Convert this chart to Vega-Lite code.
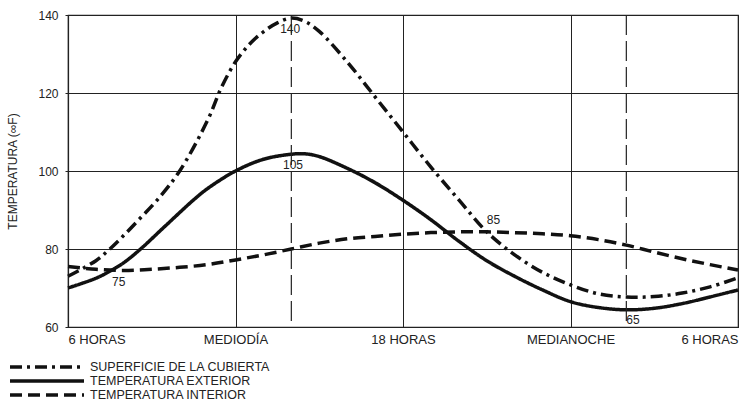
{
  "$schema": "https://vega.github.io/schema/vega-lite/v6.json",
  "width": 670,
  "height": 312,
  "autosize": {"type": "none"},
  "padding": {"left": 68, "top": 15, "right": 1, "bottom": 75},
  "background": "white",
  "config": {
    "font": "Liberation Sans",
    "view": {"stroke": "#222", "strokeWidth": 1.2},
    "axis": {"gridColor": "#222", "gridOpacity": 1, "gridWidth": 1, "domainColor": "#222", "domainWidth": 1.2, "tickColor": "#222", "labelColor": "#222", "titleColor": "#222", "labelFont": "Liberation Sans", "titleFont": "Liberation Sans", "titleFontWeight": "normal"},
    "legend": {"labelFont": "Liberation Sans"}
  },
  "datasets": {
    "curves": [
      {"hour": 6, "temp": 73, "serie": "SUPERFICIE DE LA CUBIERTA"},
      {"hour": 7, "temp": 77, "serie": "SUPERFICIE DE LA CUBIERTA"},
      {"hour": 7.5, "temp": 80, "serie": "SUPERFICIE DE LA CUBIERTA"},
      {"hour": 8, "temp": 83.5, "serie": "SUPERFICIE DE LA CUBIERTA"},
      {"hour": 8.6, "temp": 88, "serie": "SUPERFICIE DE LA CUBIERTA"},
      {"hour": 9.2, "temp": 92.6, "serie": "SUPERFICIE DE LA CUBIERTA"},
      {"hour": 10, "temp": 100, "serie": "SUPERFICIE DE LA CUBIERTA"},
      {"hour": 11, "temp": 113, "serie": "SUPERFICIE DE LA CUBIERTA"},
      {"hour": 11.5, "temp": 121.5, "serie": "SUPERFICIE DE LA CUBIERTA"},
      {"hour": 12, "temp": 128, "serie": "SUPERFICIE DE LA CUBIERTA"},
      {"hour": 12.5, "temp": 132.5, "serie": "SUPERFICIE DE LA CUBIERTA"},
      {"hour": 13, "temp": 135.7, "serie": "SUPERFICIE DE LA CUBIERTA"},
      {"hour": 13.5, "temp": 138, "serie": "SUPERFICIE DE LA CUBIERTA"},
      {"hour": 14, "temp": 139.2, "serie": "SUPERFICIE DE LA CUBIERTA"},
      {"hour": 14.5, "temp": 138.3, "serie": "SUPERFICIE DE LA CUBIERTA"},
      {"hour": 15, "temp": 135.8, "serie": "SUPERFICIE DE LA CUBIERTA"},
      {"hour": 16, "temp": 128, "serie": "SUPERFICIE DE LA CUBIERTA"},
      {"hour": 17, "temp": 119, "serie": "SUPERFICIE DE LA CUBIERTA"},
      {"hour": 18, "temp": 110, "serie": "SUPERFICIE DE LA CUBIERTA"},
      {"hour": 19, "temp": 101, "serie": "SUPERFICIE DE LA CUBIERTA"},
      {"hour": 20, "temp": 92.6, "serie": "SUPERFICIE DE LA CUBIERTA"},
      {"hour": 21, "temp": 84.4, "serie": "SUPERFICIE DE LA CUBIERTA"},
      {"hour": 22, "temp": 78.5, "serie": "SUPERFICIE DE LA CUBIERTA"},
      {"hour": 23, "temp": 74, "serie": "SUPERFICIE DE LA CUBIERTA"},
      {"hour": 24, "temp": 70.8, "serie": "SUPERFICIE DE LA CUBIERTA"},
      {"hour": 25, "temp": 68.5, "serie": "SUPERFICIE DE LA CUBIERTA"},
      {"hour": 26, "temp": 67.7, "serie": "SUPERFICIE DE LA CUBIERTA"},
      {"hour": 27, "temp": 67.8, "serie": "SUPERFICIE DE LA CUBIERTA"},
      {"hour": 28, "temp": 68.7, "serie": "SUPERFICIE DE LA CUBIERTA"},
      {"hour": 29, "temp": 70.3, "serie": "SUPERFICIE DE LA CUBIERTA"},
      {"hour": 30, "temp": 72.6, "serie": "SUPERFICIE DE LA CUBIERTA"},
      {"hour": 6, "temp": 70, "serie": "TEMPERATURA EXTERIOR"},
      {"hour": 7, "temp": 72.5, "serie": "TEMPERATURA EXTERIOR"},
      {"hour": 7.5, "temp": 74.3, "serie": "TEMPERATURA EXTERIOR"},
      {"hour": 8, "temp": 76.5, "serie": "TEMPERATURA EXTERIOR"},
      {"hour": 8.6, "temp": 80, "serie": "TEMPERATURA EXTERIOR"},
      {"hour": 9.5, "temp": 86, "serie": "TEMPERATURA EXTERIOR"},
      {"hour": 10.5, "temp": 92.6, "serie": "TEMPERATURA EXTERIOR"},
      {"hour": 11, "temp": 95.5, "serie": "TEMPERATURA EXTERIOR"},
      {"hour": 12, "temp": 100, "serie": "TEMPERATURA EXTERIOR"},
      {"hour": 13, "temp": 103, "serie": "TEMPERATURA EXTERIOR"},
      {"hour": 14, "temp": 104.3, "serie": "TEMPERATURA EXTERIOR"},
      {"hour": 14.5, "temp": 104.4, "serie": "TEMPERATURA EXTERIOR"},
      {"hour": 15, "temp": 103.7, "serie": "TEMPERATURA EXTERIOR"},
      {"hour": 16, "temp": 100.7, "serie": "TEMPERATURA EXTERIOR"},
      {"hour": 17, "temp": 97, "serie": "TEMPERATURA EXTERIOR"},
      {"hour": 18, "temp": 92.5, "serie": "TEMPERATURA EXTERIOR"},
      {"hour": 19, "temp": 87.5, "serie": "TEMPERATURA EXTERIOR"},
      {"hour": 20, "temp": 82, "serie": "TEMPERATURA EXTERIOR"},
      {"hour": 21, "temp": 77, "serie": "TEMPERATURA EXTERIOR"},
      {"hour": 22, "temp": 73, "serie": "TEMPERATURA EXTERIOR"},
      {"hour": 23, "temp": 69.5, "serie": "TEMPERATURA EXTERIOR"},
      {"hour": 24, "temp": 66.5, "serie": "TEMPERATURA EXTERIOR"},
      {"hour": 25, "temp": 65, "serie": "TEMPERATURA EXTERIOR"},
      {"hour": 26, "temp": 64.4, "serie": "TEMPERATURA EXTERIOR"},
      {"hour": 27, "temp": 64.8, "serie": "TEMPERATURA EXTERIOR"},
      {"hour": 28, "temp": 66, "serie": "TEMPERATURA EXTERIOR"},
      {"hour": 29, "temp": 67.7, "serie": "TEMPERATURA EXTERIOR"},
      {"hour": 30, "temp": 69.5, "serie": "TEMPERATURA EXTERIOR"},
      {"hour": 6, "temp": 75.5, "serie": "TEMPERATURA INTERIOR"},
      {"hour": 7, "temp": 74.8, "serie": "TEMPERATURA INTERIOR"},
      {"hour": 8, "temp": 74.5, "serie": "TEMPERATURA INTERIOR"},
      {"hour": 9, "temp": 74.8, "serie": "TEMPERATURA INTERIOR"},
      {"hour": 10, "temp": 75.3, "serie": "TEMPERATURA INTERIOR"},
      {"hour": 11, "temp": 76, "serie": "TEMPERATURA INTERIOR"},
      {"hour": 12, "temp": 77.2, "serie": "TEMPERATURA INTERIOR"},
      {"hour": 13, "temp": 78.5, "serie": "TEMPERATURA INTERIOR"},
      {"hour": 14, "temp": 80, "serie": "TEMPERATURA INTERIOR"},
      {"hour": 15, "temp": 81.5, "serie": "TEMPERATURA INTERIOR"},
      {"hour": 16, "temp": 82.6, "serie": "TEMPERATURA INTERIOR"},
      {"hour": 17, "temp": 83.2, "serie": "TEMPERATURA INTERIOR"},
      {"hour": 18, "temp": 83.8, "serie": "TEMPERATURA INTERIOR"},
      {"hour": 19, "temp": 84.2, "serie": "TEMPERATURA INTERIOR"},
      {"hour": 20, "temp": 84.4, "serie": "TEMPERATURA INTERIOR"},
      {"hour": 21, "temp": 84.4, "serie": "TEMPERATURA INTERIOR"},
      {"hour": 22, "temp": 84.2, "serie": "TEMPERATURA INTERIOR"},
      {"hour": 23, "temp": 83.9, "serie": "TEMPERATURA INTERIOR"},
      {"hour": 24, "temp": 83.4, "serie": "TEMPERATURA INTERIOR"},
      {"hour": 25, "temp": 82.4, "serie": "TEMPERATURA INTERIOR"},
      {"hour": 26, "temp": 81, "serie": "TEMPERATURA INTERIOR"},
      {"hour": 27, "temp": 79.2, "serie": "TEMPERATURA INTERIOR"},
      {"hour": 28, "temp": 77.5, "serie": "TEMPERATURA INTERIOR"},
      {"hour": 29, "temp": 76, "serie": "TEMPERATURA INTERIOR"},
      {"hour": 30, "temp": 74.6, "serie": "TEMPERATURA INTERIOR"}
    ],
    "marks": [{"hour": 14}, {"hour": 26}],
    "notes": [
      {"hour": 13.6, "temp": 136.4, "label": "140"},
      {"hour": 13.7, "temp": 101.5, "label": "105"},
      {"hour": 7.58, "temp": 71.5, "label": "75"},
      {"hour": 21.0, "temp": 87.4, "label": "85"},
      {"hour": 26.0, "temp": 61.8, "label": "65"}
    ]
  },
  "layer": [
    {
      "data": {"name": "curves"},
      "mark": {"type": "line", "interpolate": "catmull-rom", "strokeWidth": 3.5, "color": "#111", "strokeCap": "butt"},
      "encoding": {
        "x": {
          "field": "hour", "type": "quantitative",
          "scale": {"domain": [6, 30], "nice": false, "zero": false},
          "axis": {
            "values": [6, 12, 18, 24, 30], "grid": true, "title": null, "ticks": false,
            "labelFontSize": 13, "labelPadding": 6, "labelFlush": true,
            "labelExpr": "datum.value == 6 || datum.value == 30 ? '6 HORAS' : datum.value == 12 ? 'MEDIODÍA' : datum.value == 18 ? '18 HORAS' : 'MEDIANOCHE'"
          }
        },
        "y": {
          "field": "temp", "type": "quantitative",
          "scale": {"domain": [60, 140], "nice": false, "zero": false},
          "axis": {
            "values": [60, 80, 100, 120, 140], "grid": true, "title": "TEMPERATURA (∞F)",
            "tickSize": 3, "labelFontSize": 12, "labelPadding": 7,
            "titleFontSize": 12, "titlePadding": 18, "titleColor": "#222"
          }
        },
        "detail": {"field": "serie"},
        "strokeDash": {
          "field": "serie", "type": "nominal",
          "scale": {
            "domain": ["SUPERFICIE DE LA CUBIERTA", "TEMPERATURA EXTERIOR", "TEMPERATURA INTERIOR"],
            "range": [[12, 5, 3, 5], [1, 0], [12, 6]]
          },
          "legend": {
            "title": null, "orient": "none", "legendX": -60, "legendY": 345,
            "direction": "vertical", "symbolType": "stroke", "symbolSize": 5476,
            "symbolStrokeWidth": 3.5, "symbolStrokeColor": "#111",
            "clipHeight": 14, "rowPadding": 0, "padding": 0,
            "labelFontSize": 12.5, "labelOffset": 4, "labelLimit": 0, "labelColor": "#222"
          }
        }
      }
    },
    {
      "data": {"name": "marks"},
      "mark": {"type": "rule", "color": "#222", "strokeWidth": 1.2, "strokeDash": [20, 6]},
      "encoding": {"x": {"field": "hour", "type": "quantitative"}}
    },
    {
      "data": {"name": "notes"},
      "mark": {"type": "text", "align": "left", "baseline": "middle", "fontSize": 12, "color": "#222", "font": "Liberation Sans"},
      "encoding": {
        "x": {"field": "hour", "type": "quantitative"},
        "y": {"field": "temp", "type": "quantitative"},
        "text": {"field": "label"}
      }
    }
  ]
}
